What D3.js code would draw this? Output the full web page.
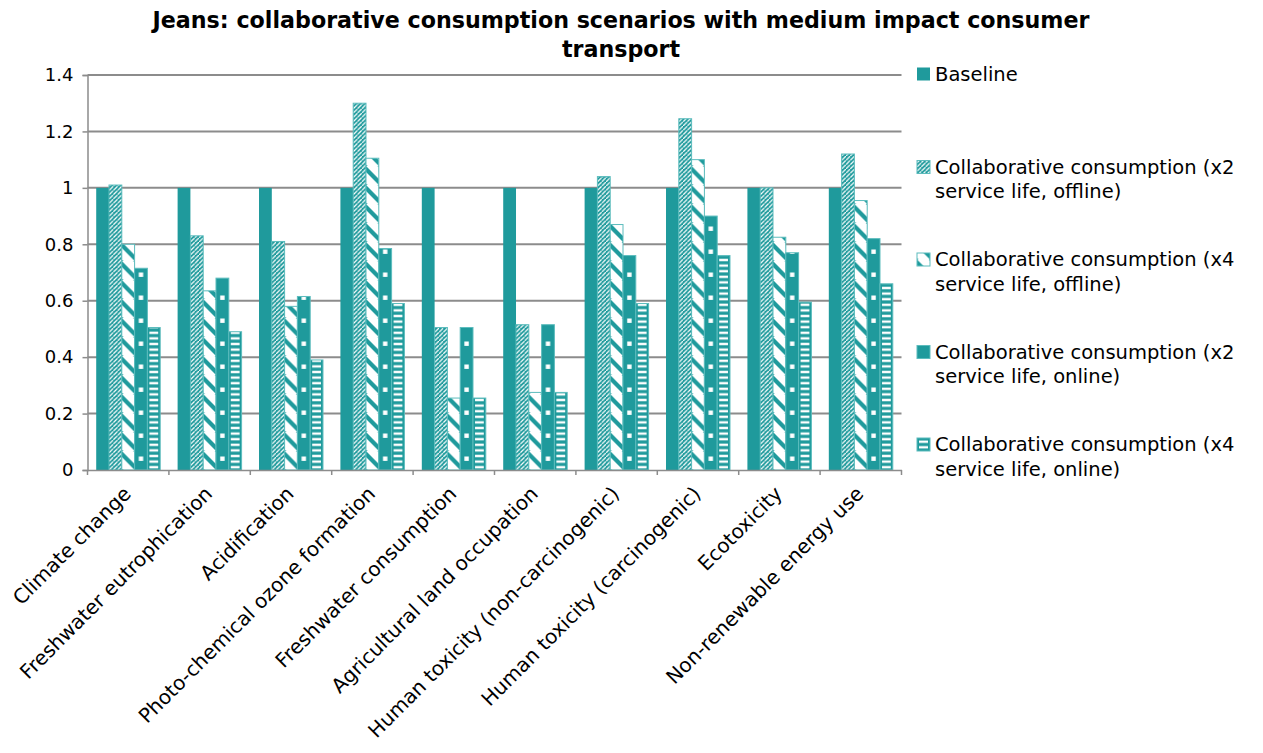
<!DOCTYPE html>
<html>
<head>
<meta charset="utf-8">
<script src="https://cdn.jsdelivr.net/npm/d3@7"></script>
<style>
  html, body { margin: 0; padding: 0; background: #fff; }
  svg text { font-family: "DejaVu Sans", "Noto Sans", sans-serif; fill: #000; }
</style>
</head>
<body>
<svg id="chart" width="1263" height="753"></svg>
<script>
// Impact categories along the x axis
const categories = [
  "Climate change",
  "Freshwater eutrophication",
  "Acidification",
  "Photo-chemical ozone formation",
  "Freshwater consumption",
  "Agricultural land occupation",
  "Human toxicity (non-carcinogenic)",
  "Human toxicity (carcinogenic)",
  "Ecotoxicity",
  "Non-renewable energy use"
];

// Relative impact per scenario (baseline = 1)
const baseline  = [1, 1, 1, 1, 1, 1, 1, 1, 1, 1];
const x2Offline = [1.01, 0.83, 0.81, 1.30, 0.505, 0.515, 1.04, 1.245, 1.00, 1.12];
const x4Offline = [0.80, 0.635, 0.58, 1.105, 0.255, 0.275, 0.87, 1.10, 0.825, 0.955];
const x2Online  = [0.715, 0.68, 0.615, 0.785, 0.505, 0.515, 0.76, 0.90, 0.77, 0.82];
const x4Online  = [0.505, 0.49, 0.39, 0.59, 0.255, 0.275, 0.59, 0.76, 0.595, 0.66];

const seriesNames = [
  "Baseline",
  "Collaborative consumption (x2 service life, offline)",
  "Collaborative consumption (x4 service life, offline)",
  "Collaborative consumption (x2 service life, online)",
  "Collaborative consumption (x4 service life, online)"
];
const seriesValues = [baseline, x2Offline, x4Offline, x2Online, x4Online];

const yTicks = [0, 0.2, 0.4, 0.6, 0.8, 1, 1.2, 1.4];
const titleLines = [
  "Jeans: collaborative consumption scenarios with medium impact consumer",
  "transport"
];

const TEAL = "#1f9a9c";
const EDGE = "#5cbcbd";
const GRID = "#8c8c8c";

const svg = d3.select("#chart");
const defs = svg.append("defs");

const plot = { left: 87.5, right: 901.5, top: 75, bottom: 470 };

const x = d3.scaleBand().domain(categories).range([plot.left, plot.right]).padding(0);
const gapHalf = x.bandwidth() * 0.107;
const xs = d3.scaleBand().domain(d3.range(seriesNames.length))
  .range([gapHalf, x.bandwidth() - gapHalf]).padding(0);
const y = d3.scaleLinear().domain([0, 1.4]).range([plot.bottom, plot.top]);

// Fill patterns, one per patterned bar so each tile lines up with its bar
function makePattern(id, s, x0, y0, w) {
  if (s === 1) {
    // narrow upward diagonal: teal with thin white stripes
    const p = defs.append("pattern").attr("id", id).attr("patternUnits", "userSpaceOnUse")
      .attr("x", x0).attr("y", y0).attr("width", 4.3).attr("height", 4.3);
    p.append("rect").attr("width", 4.3).attr("height", 4.3).attr("fill", TEAL);
    p.append("path").attr("d", "M-1,5.3 L5.3,-1").attr("stroke", "#fff").attr("stroke-width", 1.2);
  } else if (s === 2) {
    // wide downward diagonal: white with teal bands
    const h = 19;
    const p = defs.append("pattern").attr("id", id).attr("patternUnits", "userSpaceOnUse")
      .attr("x", x0).attr("y", y0).attr("width", w).attr("height", h);
    p.append("rect").attr("width", w).attr("height", h).attr("fill", "#fff");
    p.append("path").attr("d", `M0,0 L${w},${h - 6} L${w},${h} L0,6 Z`).attr("fill", TEAL);
    p.append("path").attr("d", `M0,${h - 1} L2,${h} L0,${h} Z M${w - 1.5},0 L${w},0 L${w},1 Z`).attr("fill", TEAL);
  } else if (s === 3) {
    // teal with a small white square per tile
    const h = 23;
    const p = defs.append("pattern").attr("id", id).attr("patternUnits", "userSpaceOnUse")
      .attr("x", x0).attr("y", y0).attr("width", w).attr("height", h);
    p.append("rect").attr("width", w).attr("height", h).attr("fill", TEAL);
    p.append("rect").attr("x", w / 2 - 2.2).attr("y", 9.5).attr("width", 4.4).attr("height", 4.4).attr("fill", "#fff");
  } else if (s === 4) {
    // horizontal stripes
    const h = 5.6;
    const p = defs.append("pattern").attr("id", id).attr("patternUnits", "userSpaceOnUse")
      .attr("x", x0).attr("y", y0).attr("width", w).attr("height", h);
    p.append("rect").attr("width", w).attr("height", h).attr("fill", TEAL);
    p.append("rect").attr("x", 2).attr("y", 1.6).attr("width", w - 4).attr("height", 2.4).attr("fill", "#fff");
  }
}

// Gridlines and y axis
const gy = svg.append("g").attr("transform", `translate(${plot.left},0)`)
  .call(d3.axisLeft(y).tickValues(yTicks).tickSize(5).tickPadding(9)
    .tickFormat(d => d3.format("")(+d.toFixed(1))));
gy.select(".domain").attr("stroke", GRID).attr("stroke-width", 1.5);
gy.selectAll(".tick line").attr("stroke", GRID).attr("stroke-width", 1.5);
gy.selectAll(".tick text").style("font-size", "18px").style("font-family", "DejaVu Sans").attr("fill", "#000");

svg.append("g").selectAll("line").data(yTicks.filter(d => d > 0)).join("line")
  .attr("x1", plot.left).attr("x2", plot.right)
  .attr("y1", d => y(d)).attr("y2", d => y(d))
  .attr("stroke", GRID).attr("stroke-width", 2);

// Bars
const barData = [];
categories.forEach((c, j) => {
  seriesValues.forEach((vals, s) => {
    barData.push({ c, j, s, v: vals[j] });
  });
});

barData.forEach(d => {
  d.x = x(d.c) + xs(d.s);
  d.w = xs.bandwidth();
  if (d.s > 0) makePattern(`pat-${d.s}-${d.j}`, d.s, d.x, y(0), d.w);
});

svg.append("g").selectAll("rect").data(barData).join("rect")
  .attr("x", d => d.x)
  .attr("y", d => y(d.v))
  .attr("width", d => d.w)
  .attr("height", d => y(0) - y(d.v))
  .attr("fill", d => d.s === 0 ? TEAL : `url(#pat-${d.s}-${d.j})`)
  .attr("stroke", d => d.s === 0 ? "none" : EDGE)
  .attr("stroke-width", 1);

// X axis
const gx = svg.append("g").attr("transform", `translate(0,${plot.bottom})`)
  .call(d3.axisBottom(x).tickSize(0).tickFormat(""));
gx.select(".domain").attr("stroke", GRID).attr("stroke-width", 1.5);
svg.append("g").selectAll("line").data(d3.range(categories.length + 1)).join("line")
  .attr("x1", i => plot.left + i * x.step()).attr("x2", i => plot.left + i * x.step())
  .attr("y1", plot.bottom).attr("y2", plot.bottom + 5)
  .attr("stroke", GRID).attr("stroke-width", 1.5);

svg.append("g").selectAll("text").data(categories).join("text")
  .attr("transform", d => `translate(${x(d) + x.bandwidth() / 2 - 1},${plot.bottom + 20}) rotate(-45)`)
  .attr("text-anchor", "end")
  .attr("dy", "0.35em")
  .style("font-size", "20px")
  .text(d => d);

// Title
svg.append("g").selectAll("text").data(titleLines).join("text")
  .attr("x", 621).attr("y", (d, i) => 28 + i * 29)
  .attr("text-anchor", "middle")
  .style("font-size", "22.2px").style("font-weight", "bold")
  .text(d => d);

// Legend
const legend = svg.append("g").attr("transform", "translate(917,0)");
const legendY = [74, 167, 259.5, 352, 444.5];
const swatchSize = 13;
const legendFont = 19.5;
seriesNames.forEach((name, s) => {
  const g = legend.append("g").attr("transform", `translate(0,${legendY[s]})`);
  if (s > 0) makePattern(`lpat-${s}`, s, 0, 0, swatchSize);
  g.append("rect").attr("x", 0).attr("y", -swatchSize / 2)
    .attr("width", swatchSize).attr("height", swatchSize)
    .attr("fill", s === 0 ? TEAL : `url(#lpat-${s})`)
    .attr("stroke", s === 0 ? "none" : EDGE).attr("stroke-width", 1);
  const words = name.split(" ");
  const lines = [];
  let cur = "";
  const probe = g.append("text").style("font-size", legendFont + "px");
  words.forEach(w => {
    const test = cur ? cur + " " + w : w;
    probe.text(test);
    if (probe.node().getComputedTextLength() > 328 && cur) {
      lines.push(cur); cur = w;
    } else cur = test;
  });
  lines.push(cur);
  probe.remove();
  const t = g.append("text").attr("x", 18).attr("y", 0).style("font-size", legendFont + "px");
  lines.forEach((ln, i) => {
    t.append("tspan").attr("x", 18).attr("dy", i === 0 ? "0.35em" : "24.5").text(ln);
  });
});
</script>
</body>
</html>
